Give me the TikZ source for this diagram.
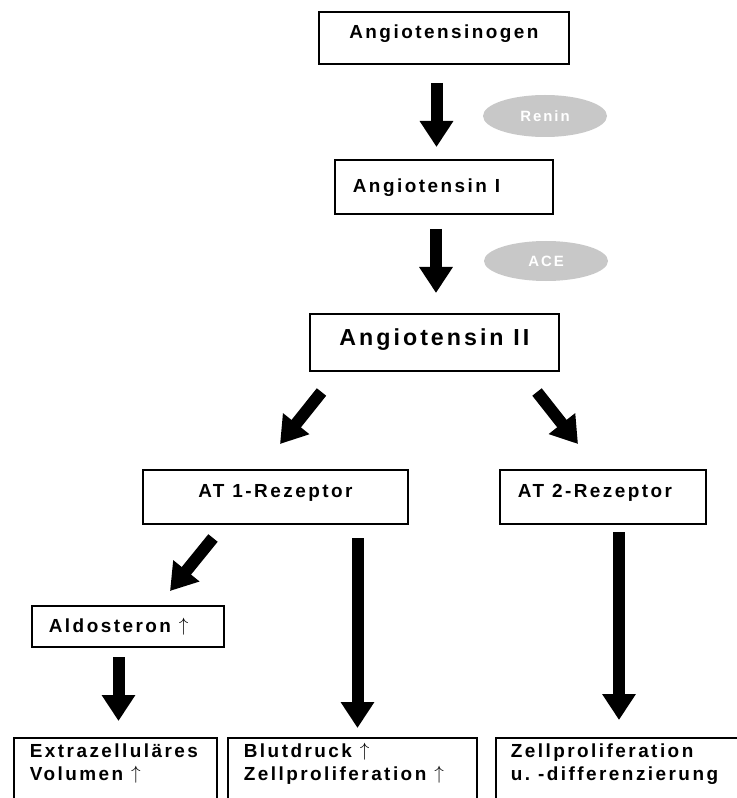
\documentclass[tikz,border=0pt]{standalone}
\usepackage{fontspec}
\setmainfont{Liberation Sans}[LetterSpace=13]
\usetikzlibrary{arrows.meta,shapes.geometric}
\definecolor{enz}{RGB}{200,200,200}
\newcommand\uparr{\raisebox{0.05em}{$\uparrow$}}
\newcommand\wsp{\hspace{0.42em}}
\begin{document}
\begin{tikzpicture}[x=0.75pt,y=-0.75pt,
  box/.style={draw, line width=1.3pt, rectangle, anchor=north west, inner ysep=0pt,
    font=\bfseries\fontsize{14.2pt}{17.25pt}\selectfont},
  bigbox/.style={box, font=\bfseries\fontsize{17.4pt}{20pt}\selectfont},
  enzyme/.style={ellipse, fill=enz, draw=none, text=white, inner sep=0pt,
    font=\bfseries\fontsize{11.2pt}{12pt}\selectfont},
  flow/.style={line width=9pt, -{Triangle[length=19.5pt,width=24pt]}}]
\useasboundingbox (0,0) rectangle (736,798);

% boxes
\node[box, align=center, inner xsep=0pt, text width=187.5pt, text height=20.25pt, text depth=18.75pt]
  (agen) at (318,11) {Angiotensinogen};
\node[box, align=left, inner xsep=13.5pt, text width=136.5pt, text height=24.75pt, text depth=15.75pt]
  (ang1) at (334,159) {Angiotensin\wsp I};
\node[bigbox, align=center, inner xsep=0pt, text width=186.75pt, text height=24pt, text depth=18.75pt]
  (ang2) at (309,313) {Angiotensin\wsp II};
\node[box, align=center, inner xsep=0pt, text width=198.75pt, text height=21pt, text depth=19.5pt]
  (at1) at (142,469) {AT\wsp 1-Rezeptor};
\node[box, align=left, inner xsep=13.5pt, text width=127.5pt, text height=21pt, text depth=19.5pt]
  (at2) at (499,469) {AT\wsp 2-Rezeptor};
\node[box, align=left, inner xsep=12.75pt, text width=118.5pt, text height=20.25pt, text depth=10.5pt]
  (aldo) at (31,605) {Aldosteron\wsp\uparr};
\node[box, align=left, inner xsep=12pt, text width=128.25pt, text height=15pt, text depth=54.75pt]
  (ezv) at (13,737) {Extrazelluläres\\Volumen\wsp\uparr};
\node[box, align=left, inner xsep=12pt, text width=162.75pt, text height=15pt, text depth=54.75pt]
  (blut) at (227,737) {Blutdruck\wsp\uparr\\Zellproliferation\wsp\uparr};
\node[box, align=left, inner xsep=11.25pt, text width=176.25pt, text height=15pt, text depth=54.75pt]
  (zell) at (495,737) {Zellproliferation\\u.\wsp -differenzierung};

% enzymes
\node[enzyme, minimum width=93pt, minimum height=31.5pt] (renin) at (545,116) {Renin};
\node[enzyme, minimum width=93pt, minimum height=30pt] (ace) at (546,261) {ACE};

% arrow end points
\coordinate (a1s) at (436.5,83);  \coordinate (a1e) at (436.5,147);
\coordinate (a2s) at (436,229);   \coordinate (a2e) at (436,293);
\coordinate (a3s) at (321.5,392); \coordinate (a3e) at (280,444);
\coordinate (a4s) at (537,392);   \coordinate (a4e) at (578,444);
\coordinate (a5s) at (213,538);   \coordinate (a5e) at (170,591);
\coordinate (a6s) at (118.5,657); \coordinate (a6e) at (118.5,721);
\coordinate (a7s) at (357.5,538); \coordinate (a7e) at (357.5,728);
\coordinate (a8s) at (619,532);   \coordinate (a8e) at (619,720);

\draw[flow] (a1s) -- (a1e);
\draw[flow] (a2s) -- (a2e);
\draw[flow] (a3s) -- (a3e);
\draw[flow] (a4s) -- (a4e);
\draw[flow] (a5s) -- (a5e);
\draw[flow] (a6s) -- (a6e);
\draw[flow] (a7s) -- (a7e);
\draw[flow] (a8s) -- (a8e);
\end{tikzpicture}
\end{document}
